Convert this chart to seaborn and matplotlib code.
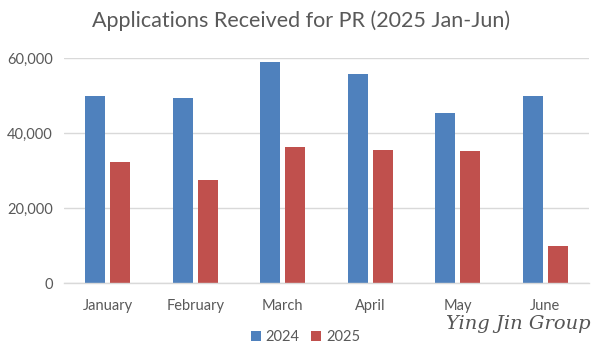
import pandas as pd
import matplotlib.pyplot as plt
import seaborn as sns
from matplotlib.ticker import FuncFormatter

# Monthly PR applications
months = ['January', 'February', 'March', 'April', 'May', 'June']
apps_2024 = [50000, 49500, 59100, 55800, 45400, 49900]
apps_2025 = [32400, 27500, 36300, 35500, 35300, 10000]
years = ['2024', '2025']
colors = ['#4F81BD', '#C0504D']

df = pd.DataFrame({
    'month': months * 2,
    'year': [years[0]] * len(months) + [years[1]] * len(months),
    'apps': apps_2024 + apps_2025,
})

sns.set_theme(style='white')
plt.rcParams['font.family'] = ['Lato', 'DejaVu Sans']
text_grey = '#595959'

fig = plt.figure(figsize=(6.03, 3.56), dpi=100)
ax = fig.add_axes([0.106, 0.204, 0.871, 0.632])

sns.barplot(data=df, x='month', y='apps', hue='year', palette=colors,
            width=0.57, gap=0.2, saturation=1, linewidth=0, ax=ax, legend=True)

ax.set_ylim(0, 60000)
ax.set_yticks([0, 20000, 40000, 60000])
ax.yaxis.set_major_formatter(FuncFormatter(lambda v, p: f'{int(v):,}'))
ax.yaxis.grid(True, color='#D9D9D9', linewidth=1)
ax.set_axisbelow(True)
for s in ['top', 'right', 'left']:
    ax.spines[s].set_visible(False)
ax.spines['bottom'].set_color('#D9D9D9')
ax.spines['bottom'].set_linewidth(1)
ax.tick_params(axis='both', length=0, labelsize=10.5, colors=text_grey, pad=8)
ax.tick_params(axis='x', pad=11)
ax.set_xlabel('')
ax.set_ylabel('')

fig.suptitle('Applications Received for PR (2025 Jan-Jun)', x=0.5, y=0.97,
             fontsize=15.5, color=text_grey)

ax.legend(loc='center', bbox_to_anchor=(0.46, -0.24), ncol=2, frameon=False,
          fontsize=10.5, handlelength=0.7, handleheight=0.7, handletextpad=0.3,
          columnspacing=0.8, labelcolor=text_grey)

fig.text(0.98, 0.09, 'Ying Jin Group', ha='right', va='center', fontsize=14,
         family='DejaVu Serif', style='italic', color='#555555')

plt.savefig('out.png', dpi=100)
